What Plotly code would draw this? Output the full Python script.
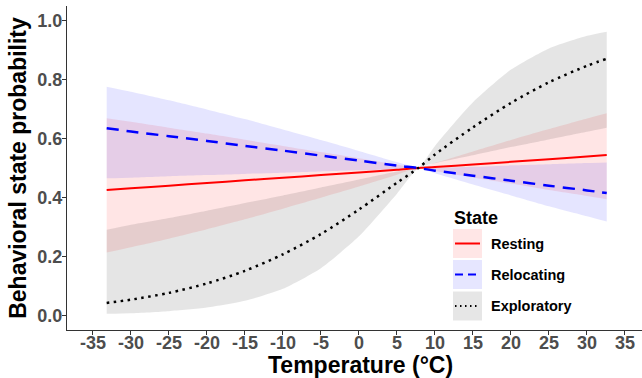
import plotly.graph_objects as go

# Temperature grid (°C)
temp = [-33.2, -30, -25, -20, -15, -10, -5, 0, 5, 7.8, 10, 15, 20, 25, 30, 32.6]

# Resting
rest_mean = [0.425, 0.431, 0.440, 0.449, 0.458, 0.467, 0.476, 0.485, 0.494, 0.500, 0.503, 0.512, 0.521, 0.530, 0.539, 0.544]
rest_lo = [0.213, 0.231, 0.260, 0.292, 0.326, 0.362, 0.399, 0.437, 0.477, 0.500, 0.490, 0.468, 0.447, 0.425, 0.405, 0.394]
rest_hi = [0.669, 0.657, 0.637, 0.617, 0.596, 0.575, 0.554, 0.533, 0.511, 0.500, 0.517, 0.556, 0.595, 0.632, 0.668, 0.686]

# Relocating
reloc_mean = [0.635, 0.624, 0.608, 0.592, 0.575, 0.559, 0.542, 0.525, 0.508, 0.500, 0.491, 0.474, 0.457, 0.440, 0.424, 0.415]
reloc_lo = [0.465, 0.467, 0.472, 0.476, 0.480, 0.484, 0.488, 0.492, 0.496, 0.500, 0.482, 0.444, 0.407, 0.370, 0.336, 0.318]
reloc_hi = [0.776, 0.759, 0.730, 0.699, 0.666, 0.631, 0.595, 0.558, 0.520, 0.500, 0.500, 0.504, 0.509, 0.513, 0.517, 0.519]

# Exploratory
expl_mean = [0.042, 0.053, 0.076, 0.108, 0.151, 0.207, 0.276, 0.359, 0.450, 0.500, 0.546, 0.638, 0.721, 0.791, 0.847, 0.871]
expl_lo = [0.005, 0.007, 0.014, 0.026, 0.049, 0.090, 0.160, 0.268, 0.413, 0.500, 0.516, 0.543, 0.571, 0.597, 0.623, 0.637]
expl_hi = [0.290, 0.307, 0.330, 0.355, 0.381, 0.407, 0.434, 0.461, 0.488, 0.500, 0.575, 0.723, 0.834, 0.906, 0.949, 0.963]

x_ticks = [-35, -30, -25, -20, -15, -10, -5, 0, 5, 10, 15, 20, 25, 30, 35]
y_ticks = [0.0, 0.2, 0.4, 0.6, 0.8, 1.0]

states = ["Resting", "Relocating", "Exploratory"]
line_colors = ["#FF0000", "#0000FF", "#000000"]
fill_colors = ["rgba(255,0,0,0.1)", "rgba(0,0,255,0.1)", "rgba(0,0,0,0.1)"]
key_colors = ["#FFE6E6", "#E6E6FF", "#E6E6E6"]
dashes = ["solid", "12px,8px", "2.5px,4.5px"]
key_dashes = ["solid", "8px,5px", "1.5px,3.5px"]
widths = [2, 2.5, 2.5]

FONT = "Liberation Sans, Arial, sans-serif"

fig = go.Figure()

series = [(rest_mean, rest_lo, rest_hi), (reloc_mean, reloc_lo, reloc_hi), (expl_mean, expl_lo, expl_hi)]

for (m, lo, hi), fc in zip(series, fill_colors):
    fig.add_trace(go.Scatter(x=temp, y=lo, mode="lines", line=dict(width=0, shape="spline", smoothing=0.6),
                             showlegend=False, hoverinfo="skip"))
    fig.add_trace(go.Scatter(x=temp, y=hi, mode="lines", line=dict(width=0, shape="spline", smoothing=0.6),
                             fill="tonexty", fillcolor=fc, showlegend=False, hoverinfo="skip"))

for (m, lo, hi), name, lc, d, w in zip(series, states, line_colors, dashes, widths):
    fig.add_trace(go.Scatter(x=temp, y=m, mode="lines", name=name,
                             line=dict(color=lc, width=w, dash=d, shape="spline", smoothing=0.8),
                             showlegend=False))

# Manual ggplot-style legend
L, T, W, H = 67, 6, 575, 324
def px(xp):
    return (xp - L) / W
def py(yp):
    return (T + H - yp) / H

fig.add_annotation(x=px(452), y=py(218), xref="paper", yref="paper", text="State", showarrow=False,
                   xanchor="left", yanchor="middle",
                   font=dict(family=FONT, size=18, color="black", weight="bold"))
box_tops = [229, 260, 291.5]
for i, (name, lc, kc, kd) in enumerate(zip(states, line_colors, key_colors, key_dashes)):
    top = box_tops[i]
    bot = top + 29
    mid = (top + bot) / 2
    fig.add_shape(type="rect", xref="paper", yref="paper", x0=px(453), x1=px(482), y0=py(bot), y1=py(top),
                  fillcolor=kc, line=dict(width=0), layer="above")
    fig.add_shape(type="line", xref="paper", yref="paper", x0=px(455), x1=px(480), y0=py(mid), y1=py(mid),
                  line=dict(color=lc, width=2, dash=kd), layer="above")
    fig.add_annotation(x=px(489), y=py(mid), xref="paper", yref="paper", text=name, showarrow=False,
                       xanchor="left", yanchor="middle",
                       font=dict(family=FONT, size=14.5, color="black", weight="bold"))

# X axis title
fig.add_annotation(x=px(360), y=py(365), xref="paper", yref="paper", text="Temperature (°C)", showarrow=False,
                   xanchor="center", yanchor="middle",
                   font=dict(family=FONT, size=23, color="black", weight="bold"))

fig.update_layout(
    width=642, height=378,
    margin=dict(l=L, r=0, t=T, b=378 - T - H, pad=0),
    plot_bgcolor="white", paper_bgcolor="white",
    showlegend=False,
    font=dict(family=FONT),
)
fig.update_xaxes(range=[-38.42, 37.24], tickvals=x_ticks, ticktext=[str(v) for v in x_ticks],
                 showgrid=False, zeroline=False, showline=True, linecolor="#333333", linewidth=1,
                 ticks="outside", ticklen=0, ticklabelposition="outside", ticklabelstandoff=-4,
                 minor=dict(tickmode="array", tickvals=x_ticks, ticks="outside", ticklen=4,
                            tickcolor="#333333", tickwidth=1, showgrid=False),
                 tickfont=dict(family=FONT, size=18, color="#4D4D4D", weight="bold"))
fig.update_yaxes(range=[-0.05, 1.05], tickvals=y_ticks, ticktext=[f"{v:.1f}" for v in y_ticks],
                 showgrid=False, zeroline=False, showline=True, linecolor="#333333", linewidth=1,
                 ticks="outside", ticklen=0, ticklabelposition="outside", ticklabelstandoff=0,
                 minor=dict(tickmode="array", tickvals=y_ticks, ticks="outside", ticklen=4,
                            tickcolor="#333333", tickwidth=1, showgrid=False),
                 tickfont=dict(family=FONT, size=18, color="#4D4D4D", weight="bold"),
                 title=dict(text="Behavioral state probability", standoff=4,
                            font=dict(family=FONT, size=23, color="black", weight="bold")))

fig.write_html("out.html")
